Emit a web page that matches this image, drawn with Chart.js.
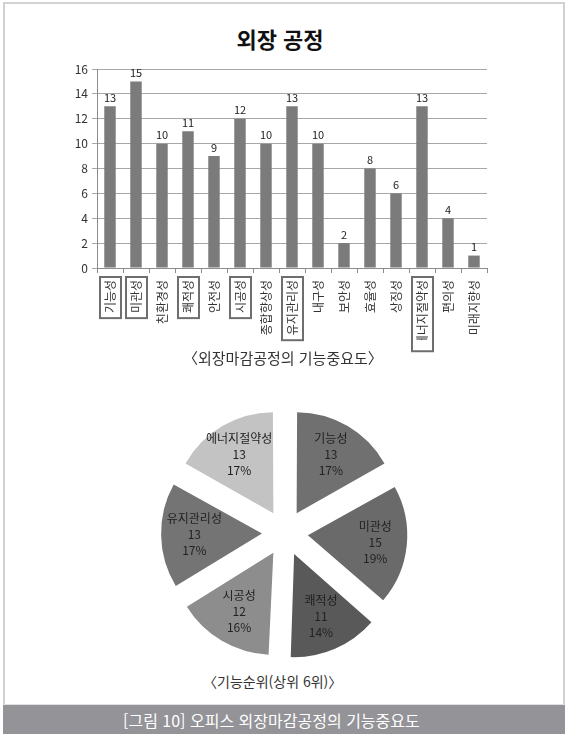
<!DOCTYPE html>
<html lang="ko">
<head>
<meta charset="utf-8">
<script src="https://cdn.jsdelivr.net/npm/chart.js@4/dist/chart.umd.min.js"></script>
<style>
  html, body { margin: 0; padding: 0; background: #fff; }
  body { width: 565px; height: 734px; position: relative; overflow: hidden;
         font-family: "Noto Sans CJK KR", "Noto Sans", sans-serif; }
  .frame { position: absolute; left: 3px; top: 2px; width: 558px; height: 702px;
           border: 2px solid #d2d2d2; border-bottom: none; }
  .title { position: absolute; left: 0; width: 560px; top: 23px; text-align: center;
           font-size: 22px; font-weight: bold; color: #111; line-height: 30px; }
  .caption { position: absolute; color: #333; white-space: nowrap; }
  .band { position: absolute; left: 3px; top: 704px; width: 562px; height: 30px;
          background: #939398; border-top: 1px solid #e0e0e0; }
  .band span { position: absolute; left: 120px; top: 4px; color: #fff; font-size: 16px;
               line-height: 22px; white-space: nowrap; }
  canvas { position: absolute; }
</style>
</head>
<body>
<div class="frame"></div>
<div class="title">외장 공정</div>
<canvas id="bars" width="565" height="370" style="left:0;top:0"></canvas>
<div class="caption" style="left:183px;top:348px;font-size:15px;line-height:20px">〈외장마감공정의 기능중요도〉</div>
<canvas id="pie" width="260" height="260" style="left:155px;top:403px"></canvas>
<div class="caption" style="left:203px;top:671px;font-size:14px;line-height:20px">〈기능순위(상위 6위)〉</div>
<div class="band"><span>[그림 10] 오피스 외장마감공정의 기능중요도</span></div>

<script>
// 외장 공정 - 기능중요도 (bar)
const categories = ['기능성', '미관성', '친환경성', '쾌적성', '안전성', '시공성', '종합향상성',
  '유지관리성', '내구성', '보안성', '효율성', '상징성', '에너지절약성', '편의성', '미래지향성'];
const importance = [13, 15, 10, 11, 9, 12, 10, 13, 10, 2, 8, 6, 13, 4, 1];
const yTicks = [0, 2, 4, 6, 8, 10, 12, 14, 16];
// boxed labels on the x axis (top 6)
const boxed = ['기능성', '미관성', '쾌적성', '시공성', '유지관리성', '에너지절약성'];

// 기능순위 (상위 6위) - pie
const topSix = ['기능성', '미관성', '쾌적성', '시공성', '유지관리성', '에너지절약성'];
const topSixValues = [13, 15, 11, 12, 13, 13];
const pieColors = ['#707070', '#6a6a6a', '#595959', '#8d8d8d', '#747474', '#c3c3c3'];

const FONT = '"Noto Sans CJK KR", "Noto Sans", sans-serif';
Chart.defaults.font.family = FONT;
Chart.defaults.color = '#333';

const barValueLabels = {
  id: 'barValueLabels',
  afterDatasetsDraw(chart) {
    const ctx = chart.ctx;
    const meta = chart.getDatasetMeta(0);
    ctx.save();
    ctx.font = '11px ' + FONT;
    ctx.fillStyle = '#222';
    ctx.textAlign = 'center';
    ctx.textBaseline = 'bottom';
    meta.data.forEach((bar, i) => {
      ctx.fillText(String(importance[i]), bar.x, bar.y - 3);
    });
    ctx.restore();
  }
};

const labelBoxes = {
  id: 'labelBoxes',
  afterDraw(chart) {
    const ctx = chart.ctx;
    const x = chart.scales.x;
    ctx.save();
    ctx.font = '12px ' + FONT;
    ctx.strokeStyle = '#6e6e6e';
    ctx.lineWidth = 2;
    categories.forEach((c, i) => {
      if (!boxed.includes(c)) return;
      const cx = x.getPixelForValue(i);
      const len = ctx.measureText(c).width;
      const top = x.top + 9;
      ctx.strokeRect(cx - 10, top, 21, len + 8);
    });
    ctx.restore();
  }
};

new Chart(document.getElementById('bars'), {
  type: 'bar',
  data: {
    labels: categories,
    datasets: [{
      data: importance,
      backgroundColor: '#7b7b7b',
      borderWidth: 0,
      barPercentage: 0.44,
      categoryPercentage: 1
    }]
  },
  options: {
    responsive: false,
    animation: false,
    events: [],
    layout: { autoPadding: false, padding: { left: 0, top: 69, right: 78, bottom: 30 } },
    plugins: { legend: { display: false }, tooltip: { enabled: false } },
    scales: {
      x: {
        afterFit(scale) { scale.height = 72; },
        grid: { drawOnChartArea: false, drawTicks: true, tickLength: 5, color: '#8c8c8c' },
        border: { color: '#8c8c8c' },
        ticks: { autoSkip: false, minRotation: 90, maxRotation: 90, padding: 7,
                 font: { size: 12 }, color: '#333' }
      },
      y: {
        min: yTicks[0],
        max: yTicks[yTicks.length - 1],
        afterFit(scale) { scale.width = 97; },
        afterBuildTicks(scale) { scale.ticks = yTicks.map(v => ({ value: v })); },
        grid: { color: '#a8a8a8', tickLength: 5 },
        border: { color: '#8c8c8c' },
        ticks: { padding: 4, font: { size: 12 }, color: '#333' }
      }
    }
  },
  plugins: [barValueLabels, labelBoxes]
});

// chart.js draws an arc shifted by about offset/4, so 92 gives a ~26px explode
const PIE_OFFSET = 92;
const PIE_SHIFT = 26;
const pieLabels = {
  id: 'pieLabels',
  afterDatasetsDraw(chart) {
    const ctx = chart.ctx;
    const total = topSixValues.reduce((a, b) => a + b, 0);
    ctx.save();
    ctx.font = '12px ' + FONT;
    ctx.fillStyle = '#222';
    ctx.textAlign = 'center';
    ctx.textBaseline = 'middle';
    chart.getDatasetMeta(0).data.forEach((arc, i) => {
      const p = arc.getProps(['x', 'y', 'startAngle', 'endAngle', 'outerRadius']);
      const mid = (p.startAngle + p.endAngle) / 2;
      const r = PIE_SHIFT + p.outerRadius * 0.66;
      const lx = p.x + Math.cos(mid) * r;
      const ly = p.y + Math.sin(mid) * r;
      const pct = Math.round(topSixValues[i] / total * 100) + '%';
      ctx.fillText(topSix[i], lx, ly - 16);
      ctx.fillText(String(topSixValues[i]), lx, ly);
      ctx.fillText(pct, lx, ly + 16);
    });
    ctx.restore();
  }
};

new Chart(document.getElementById('pie'), {
  type: 'pie',
  data: {
    labels: topSix,
    datasets: [{
      data: topSixValues,
      backgroundColor: pieColors,
      borderWidth: 0,
      offset: PIE_OFFSET,
      hoverOffset: 0
    }]
  },
  options: {
    responsive: false,
    animation: false,
    events: [],
    radius: 98,
    layout: { padding: 0 },
    plugins: { legend: { display: false }, tooltip: { enabled: false } }
  },
  plugins: [pieLabels]
});
</script>
</body>
</html>
